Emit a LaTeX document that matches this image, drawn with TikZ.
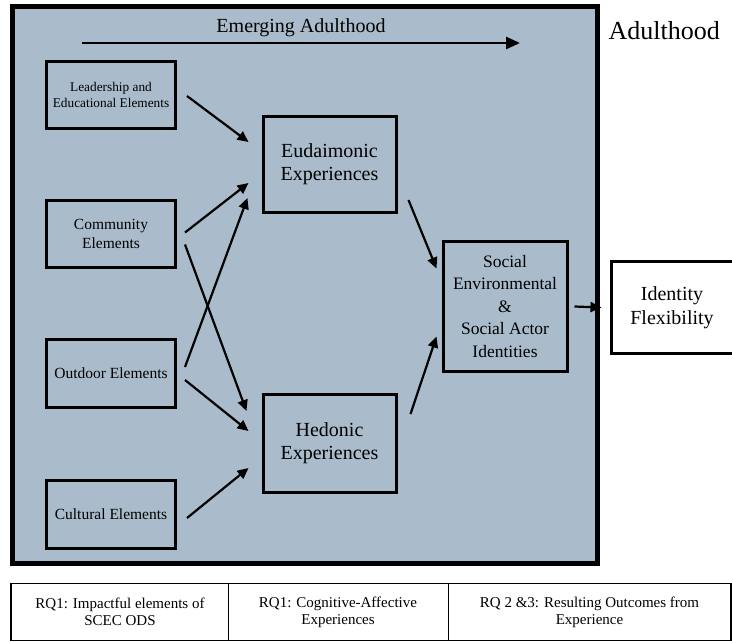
\documentclass[tikz,border=0pt]{standalone}
\usepackage{fontspec}
\setmainfont{Liberation Serif}
\usetikzlibrary{arrows.meta}
\definecolor{panel}{RGB}{170,188,203}
\tikzset{
  box/.style={draw=black, line width=3pt, align=center, inner sep=1pt},
  arr/.style={-{Triangle[length=11pt,width=10pt]}, line width=2.2pt},
  cell/.style={align=center, font=\fontsize{15}{17}\selectfont}
}
\begin{document}
\begin{tikzpicture}[x=1pt,y=-1pt]
\useasboundingbox (0,0) rectangle (732,641);
\fill[white] (0,0) rectangle (732,641);
% panel
\draw[fill=panel, line width=5pt] (12,6) rectangle (597,563);
% emerging adulthood arrow
\coordinate (ea1) at (82,43);
\coordinate (ea2) at (520,43);
\draw[-{Triangle[length=14pt,width=12pt]}, line width=2.8pt] (ea1) -- (ea2);
\node[font=\fontsize{20}{24}\selectfont] (eat) at (301,28) {Emerging Adulthood};
\node[font=\fontsize{26}{30}\selectfont, anchor=west] (adult) at (605,31) {Adulthood};
% left boxes
\node[box, minimum width=129pt, minimum height=67pt, font=\fontsize{13.3}{16}\selectfont] (lead) at (111,95) {Leadership and\\Educational Elements};
\node[box, minimum width=129pt, minimum height=67pt, font=\fontsize{15.5}{19}\selectfont] (comm) at (111,233.5) {Community\\Elements};
\node[box, minimum width=129pt, minimum height=68pt, font=\fontsize{15.5}{19}\selectfont] (out) at (111,373) {Outdoor Elements};
\node[box, minimum width=129pt, minimum height=68pt, font=\fontsize{15.5}{19}\selectfont] (cult) at (111,514) {Cultural Elements};
% middle
\node[box, minimum width=133pt, minimum height=96pt, font=\fontsize{20}{23.5}\selectfont] (eud) at (329.5,164) {Eudaimonic\\Experiences};
\node[box, minimum width=133pt, minimum height=98pt, font=\fontsize{20}{23.5}\selectfont] (hed) at (329.5,443) {Hedonic\\Experiences};
% right
\node[box, minimum width=124pt, minimum height=130pt, font=\fontsize{17.5}{22.5}\selectfont] (soc) at (505,306.5) {Social\\Environmental\\\&\\Social Actor\\Identities};
\node[box, fill=white, minimum width=122pt, minimum height=92pt, font=\fontsize{20}{24}\selectfont] (idf) at (672,307.5) {Identity\\Flexibility};
% connectors
\draw[arr] ([shift={(10,1)}]lead.east) -- ([shift={(-13,-22)}]eud.west);
\draw[arr] ([shift={(8,-1)}]comm.east) -- ([shift={(-13,19)}]eud.west);
\draw[arr] ([shift={(8,11)}]comm.east) -- ([shift={(-15,-32)}]hed.west);
\draw[arr] ([shift={(8,-6)}]out.east) -- ([shift={(-14,34)}]eud.west);
\draw[arr] ([shift={(8,7)}]out.east) -- ([shift={(-13,-12)}]hed.west);
\draw[arr] ([shift={(10,4)}]cult.east) -- ([shift={(-13,25)}]hed.west);
\draw[arr] ([shift={(11,36)}]eud.east) -- ([shift={(-5,-38)}]soc.west);
\draw[arr] ([shift={(13,-29)}]hed.east) -- ([shift={(-5,30)}]soc.west);
\draw[arr] ([shift={(6,0)}]soc.east) -- ([shift={(-8,0)}]idf.west);
% table
\node[minimum width=216pt, minimum height=57pt, cell] (c1) at (120,612) {RQ1: Impactful elements of\\SCEC ODS};
\node[minimum width=220pt, minimum height=57pt, cell] (c2) at (338,612) {RQ1: Cognitive-Affective\\Experiences};
\node[minimum width=283pt, minimum height=57pt, cell] (c3) at (589.5,612) {RQ 2 \&3: Resulting Outcomes from\\Experience};
\draw[line width=1.4pt] (11,583.5) rectangle (731,640.5);
\draw[line width=1.4pt] (c1.north east) -- (c1.south east);
\draw[line width=1.4pt] (c2.north east) -- (c2.south east);
\end{tikzpicture}
\end{document}
